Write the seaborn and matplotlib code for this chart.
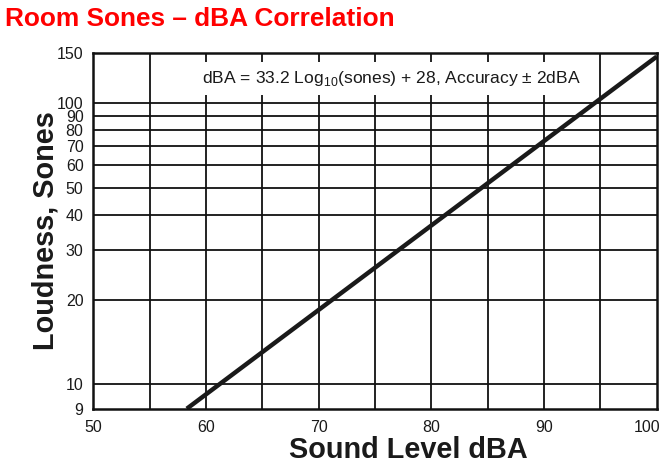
import matplotlib
matplotlib.use("Agg")
import matplotlib.pyplot as plt
import matplotlib.transforms as mtransforms
import seaborn as sns
import pandas as pd

# Data
dba = [58.3, 100.0]           # x: Sound Level dBA at line ends
sones = [8.2, 146.0]          # y: Loudness, Sones at line ends
x_ticks = [50, 60, 70, 80, 90, 100]
x_grid = [55, 60, 65, 70, 75, 80, 85, 90, 95]
y_ticks = [8.2, 10, 20, 30, 40, 50, 60, 70, 80, 90, 100, 150]
y_tick_labels = ["9", "10", "20", "30", "40", "50", "60", "70", "80", "90", "100", "150"]
y_grid = [10, 20, 30, 40, 50, 60, 70, 80, 90, 100]

title = "Room Sones \u2013 dBA Correlation"
note = "dBA = 33.2 Log$_{10}$(sones) + 28, Accuracy \u00b1 2dBA"

sns.set_style("white")
plt.rcParams["font.family"] = ["Liberation Sans", "DejaVu Sans"]
plt.rcParams["mathtext.fontset"] = "custom"
plt.rcParams["mathtext.rm"] = "Liberation Sans"

df = pd.DataFrame({"dBA": dba, "Sones": sones})

fig = plt.figure(figsize=(6.62, 4.63), dpi=100)
ax = fig.add_axes([93.3 / 662, 1 - 408.7 / 463, 563.4 / 662, 355.4 / 463])
ax.set_yscale("log")
ax.set_xlim(50, 100)
ax.set_ylim(8.2, 150)

for xv in x_grid:
    ax.axvline(xv, color="#111111", lw=1.3, zorder=1)
for yv in y_grid:
    ax.axhline(yv, color="#111111", lw=1.3, zorder=1)

sns.lineplot(data=df, x="dBA", y="Sones", ax=ax, color="#1a1a1a", lw=3.2,
             zorder=4, solid_capstyle="butt")

ax.set_xticks(x_ticks)
ax.set_xticklabels([str(v) for v in x_ticks])
ax.set_yticks(y_ticks)
ax.set_yticklabels(y_tick_labels)
ax.minorticks_off()
ax.yaxis.set_minor_locator(matplotlib.ticker.NullLocator())
ax.tick_params(axis="both", length=0, labelsize=11.5, colors="#1a1a1a")
ax.tick_params(axis="y", pad=7)
ax.tick_params(axis="x", pad=8)
last = ax.get_xticklabels()[-1]
last.set_transform(last.get_transform() +
                   mtransforms.ScaledTranslation(-9.5 / 100, 0, fig.dpi_scale_trans))

for s in ax.spines.values():
    s.set_color("#111111")
    s.set_linewidth(1.8)
    s.set_zorder(5)

ax.text(0.53, 0.928, note, transform=ax.transAxes, ha="center", va="center",
        fontsize=12.6, color="#1a1a1a", zorder=3,
        bbox=dict(boxstyle="square,pad=0.4", facecolor="white", edgecolor="none"))

ax.set_xlabel("Sound Level dBA", fontsize=20.8, fontweight="bold", color="#1a1a1a")
ax.xaxis.set_label_coords(0.5585, -0.1387)
ax.xaxis.label.set_va("baseline")
ax.set_ylabel("Loudness, Sones", fontsize=20.8, fontweight="bold", color="#1a1a1a")
ax.yaxis.set_label_coords(-0.084, 0.5)
ax.yaxis.label.set_va("center")

fig.text(5 / 662, 1 - 26 / 463, title, ha="left", va="baseline", color="#ff0000",
         fontsize=18.9, fontweight="bold")

fig.savefig("out.png", dpi=100)
